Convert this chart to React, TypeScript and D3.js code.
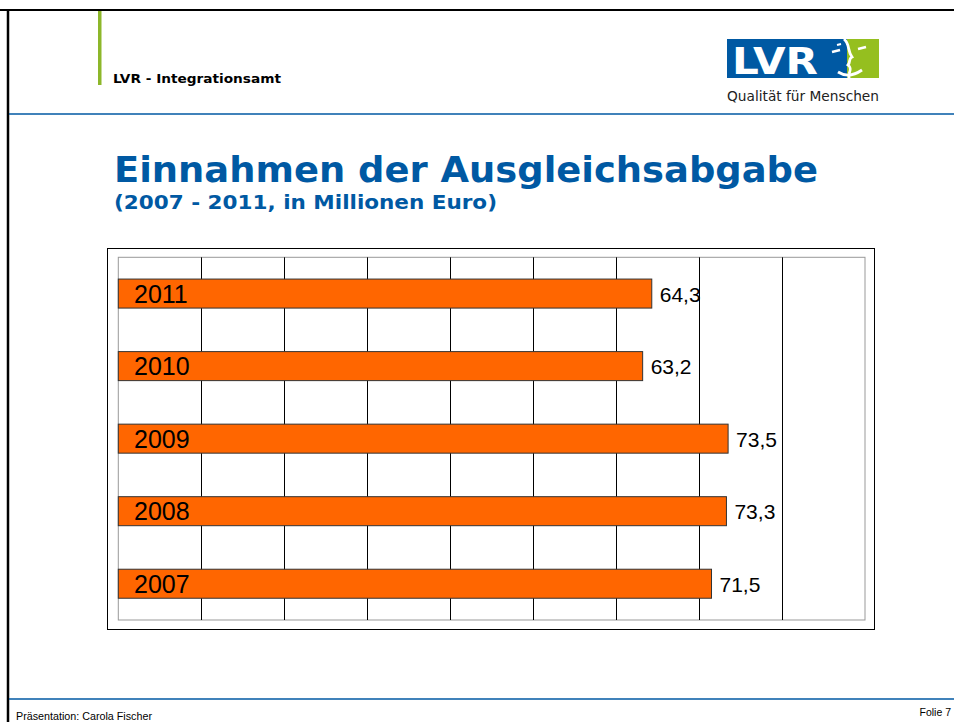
import React from "react";
import * as d3 from "d3";

const years = ["2011", "2010", "2009", "2008", "2007"];
const values = [64.3, 63.2, 73.5, 73.3, 71.5];
const valueLabels = ["64,3", "63,2", "73,5", "73,3", "71,5"];
const gridTicks = [10, 20, 30, 40, 50, 60, 70, 80];

const W = 954;
const H = 722;
const BLUE = "#0059A3";

export default function App() {
  const px0 = 118.3, px1 = 865, py0 = 257.3, py1 = 620;
  const x = d3.scaleLinear().domain([0, 90]).range([px0, px1]);
  const y = d3.scaleBand<string>().domain(years).range([py0, py1]).paddingInner(0.6).paddingOuter(0.3);
  const bw = y.bandwidth();

  return (
    <svg width={W} height={H} style={{ position: "absolute", left: 0, top: 0, display: "block" }}>
      <rect x={0} y={0} width={W} height={H} fill="#fff" />
      {/* slide border */}
      <line x1={0} y1={10} x2={W} y2={10} stroke="#000" strokeWidth={2} />
      <line x1={8} y1={9} x2={8} y2={H} stroke="#000" strokeWidth={2.5} />

      {/* header */}
      <rect x={98} y={11} width={3.5} height={74} fill="#8DB72A" />
      <text x={113} y={83} fontFamily="DejaVu Sans, Verdana, sans-serif" fontWeight="bold" fontSize={12}
        textLength={168} lengthAdjust="spacingAndGlyphs" fill="#000">LVR - Integrationsamt</text>
      <line x1={9} y1={114} x2={W} y2={114} stroke={BLUE} strokeWidth={1.5} />

      {/* logo */}
      <rect x={727} y={39} width={121} height={39} fill={BLUE} />
      <rect x={847} y={39} width={32} height={39} fill="#95BF1F" />
      <text x={732} y={74} fontFamily="DejaVu Sans, sans-serif" fontWeight="bold" fontSize={38}
        textLength={86} lengthAdjust="spacingAndGlyphs" fill="#fff">LVR</text>
      <path d="M844,39 C850,44 847,50 852,57 C848,59 851,62 848,65 C852,68 850,71 849,74"
        fill="none" stroke="#fff" strokeWidth={2.8} />
      <path d="M838,72 Q849,79 862,70" fill="none" stroke="#fff" strokeWidth={2.8} />
      <path d="M849,74 L849,78" fill="none" stroke="#fff" strokeWidth={2.8} />
      <path d="M832,52 L840,50" fill="none" stroke="#fff" strokeWidth={2.5} />
      <path d="M837,45 L841,44" fill="none" stroke="#fff" strokeWidth={2} />
      <path d="M858,49 L866,47" fill="none" stroke="#fff" strokeWidth={2.5} />
      <text x={727} y={101} fontFamily="DejaVu Sans, sans-serif" fontSize={14}
        textLength={152} lengthAdjust="spacingAndGlyphs" fill="#222">Qualität für Menschen</text>

      {/* title */}
      <text x={114} y={182} fontFamily="DejaVu Sans, Verdana, sans-serif" fontWeight="bold" fontSize={36}
        textLength={704} lengthAdjust="spacingAndGlyphs" fill={BLUE}>Einnahmen der Ausgleichsabgabe</text>
      <text x={114} y={209} fontFamily="DejaVu Sans, Verdana, sans-serif" fontWeight="bold" fontSize={19}
        textLength={383} lengthAdjust="spacingAndGlyphs" fill={BLUE}>(2007 - 2011, in Millionen Euro)</text>

      {/* chart frame */}
      <rect x={107.5} y={248.5} width={767} height={381} fill="#fff" stroke="#000" strokeWidth={1} />
      <rect x={px0} y={py0} width={px1 - px0} height={py1 - py0} fill="#fff" stroke="#999" strokeWidth={1} />
      {gridTicks.map((t) => (
        <line key={t} x1={Math.round(x(t)) + 0.5} x2={Math.round(x(t)) + 0.5} y1={py0} y2={py1} stroke="#000" strokeWidth={1} />
      ))}

      {years.map((yr, i) => {
        const y0 = y(yr)!;
        return (
          <g key={yr}>
            <rect x={px0} y={y0} width={x(values[i]) - px0} height={bw} fill="#FF6600" stroke="#333" strokeWidth={1} />
            <text x={134} y={y0 + bw / 2 + 9} fontFamily="Liberation Sans, Arial, sans-serif" fontSize={25} fill="#000">{yr}</text>
            <text x={x(values[i]) + 8} y={y0 + bw / 2 + 8} fontFamily="Liberation Sans, Arial, sans-serif" fontSize={21} fill="#000">{valueLabels[i]}</text>
          </g>
        );
      })}

      {/* footer */}
      <line x1={9} y1={699} x2={W} y2={699} stroke={BLUE} strokeWidth={1.5} />
      <text x={16} y={720} fontFamily="Liberation Sans, Arial, sans-serif" fontSize={10.5}
        textLength={136} lengthAdjust="spacingAndGlyphs" fill="#000">Präsentation: Carola Fischer</text>
      <text x={951} y={716} textAnchor="end" fontFamily="Liberation Sans, Arial, sans-serif" fontSize={10.5} fill="#000">Folie 7</text>
    </svg>
  );
}
